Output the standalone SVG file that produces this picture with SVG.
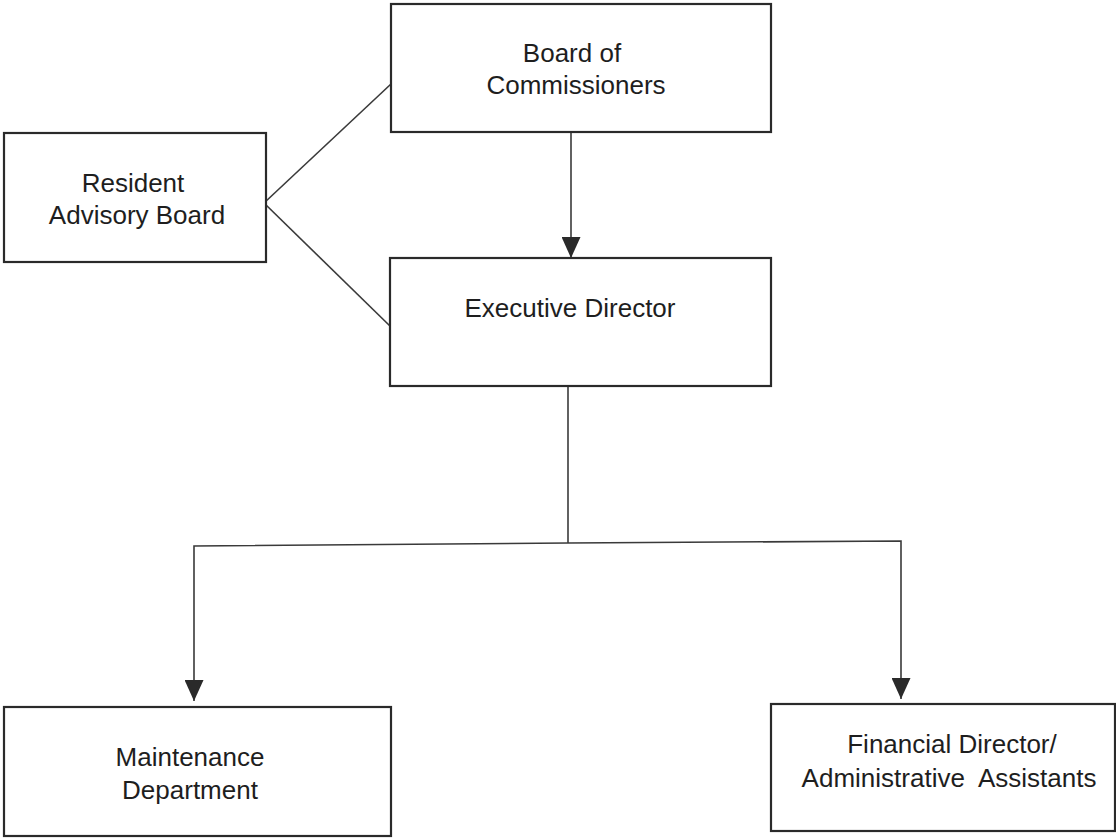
<svg xmlns="http://www.w3.org/2000/svg" width="1116" height="838" viewBox="0 0 1116 838">
<style>
.box{fill:#fff;stroke:#2a2a2a;stroke-width:2.2}
.lbl{font-family:"Liberation Sans",Arial,sans-serif;font-size:26px;fill:#1e1e1e;text-anchor:middle}
.con{fill:none;stroke:#3a3a3a;stroke-width:1.6}
</style>
<defs>
<marker id="arr" viewBox="0 0 21 19" refX="21" refY="9.5" markerWidth="21" markerHeight="19" markerUnits="userSpaceOnUse" orient="auto">
<path d="M0,0 L21,9.5 L0,19 z" fill="#2a2a2a"/>
</marker>
</defs>
<rect width="1116" height="838" fill="#fff"/>
<g id="connectors">
<line class="con" x1="264" y1="203" x2="391" y2="84"/>
<line class="con" x1="264" y1="203" x2="391" y2="327"/>
<line class="con" x1="571" y1="132" x2="571" y2="258" marker-end="url(#arr)"/>
<line class="con" x1="568" y1="386" x2="568" y2="543"/>
<polyline class="con" points="568,543 194,546 194,701" marker-end="url(#arr)"/>
<polyline class="con" points="568,543 901,541 901,699" marker-end="url(#arr)"/>
</g>
<g id="board">
<rect class="box" x="391" y="4" width="380" height="128"/>
<text class="lbl" x="572" y="62">Board of</text>
<text class="lbl" x="576" y="94">Commissioners</text>
</g>
<g id="resident">
<rect class="box" x="4" y="133" width="262" height="129"/>
<text class="lbl" x="133" y="192">Resident</text>
<text class="lbl" x="137" y="224">Advisory Board</text>
</g>
<g id="executive">
<rect class="box" x="390" y="258" width="381" height="128"/>
<text class="lbl" x="570" y="317">Executive Director</text>
</g>
<g id="maintenance">
<rect class="box" x="4" y="707" width="387" height="129"/>
<text class="lbl" x="190" y="766">Maintenance</text>
<text class="lbl" x="190" y="799">Department</text>
</g>
<g id="financial">
<rect class="box" x="771" y="704" width="344" height="127"/>
<text class="lbl" x="952" y="753">Financial Director/</text>
<text class="lbl" x="949" y="787" xml:space="preserve">Administrative  Assistants</text>
</g>
</svg>
